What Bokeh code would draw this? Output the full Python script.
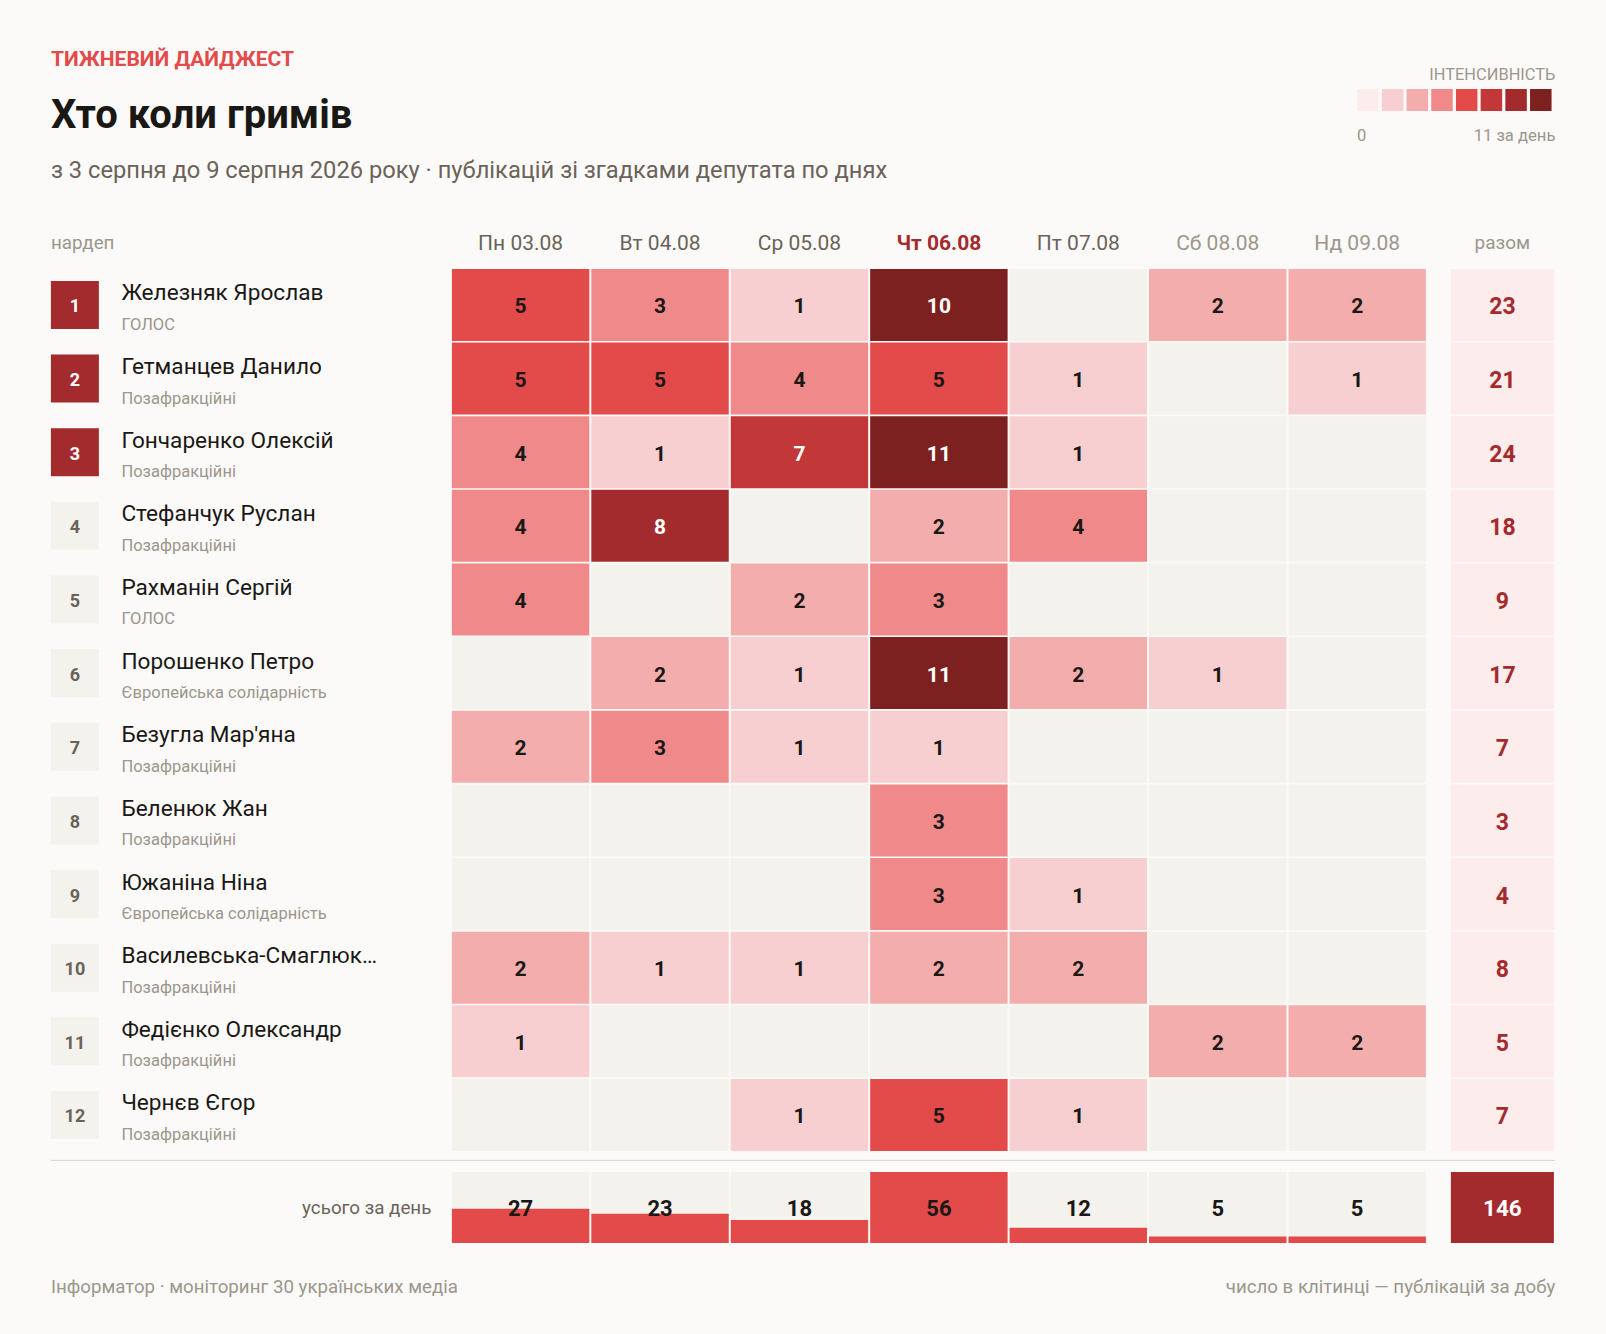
from bokeh.plotting import figure
from bokeh.models import Range1d, ColumnDataSource
from bokeh.core.properties import value
from bokeh.embed import file_html
from bokeh.resources import INLINE
import numpy as np

# ---------- data ----------
days = ["Пн 03.08", "Вт 04.08", "Ср 05.08", "Чт 06.08", "Пт 07.08", "Сб 08.08", "Нд 09.08"]
names = ["Железняк Ярослав", "Гетманцев Данило", "Гончаренко Олексій", "Стефанчук Руслан",
         "Рахманін Сергій", "Порошенко Петро", "Безугла Мар'яна", "Беленюк Жан",
         "Южаніна Ніна", "Василевська-Смаглюк…", "Федієнко Олександр", "Чернєв Єгор"]
parties = ["ГОЛОС", "Позафракційні", "Позафракційні", "Позафракційні", "ГОЛОС",
           "Європейська солідарність", "Позафракційні", "Позафракційні",
           "Європейська солідарність", "Позафракційні", "Позафракційні", "Позафракційні"]
counts = [
    [5, 3, 1, 10, 0, 2, 2],
    [5, 5, 4, 5, 1, 0, 1],
    [4, 1, 7, 11, 1, 0, 0],
    [4, 8, 0, 2, 4, 0, 0],
    [4, 0, 2, 3, 0, 0, 0],
    [0, 2, 1, 11, 2, 1, 0],
    [2, 3, 1, 1, 0, 0, 0],
    [0, 0, 0, 3, 0, 0, 0],
    [0, 0, 0, 3, 1, 0, 0],
    [2, 1, 1, 2, 2, 0, 0],
    [1, 0, 0, 0, 0, 2, 2],
    [0, 0, 1, 5, 1, 0, 0],
]
row_totals = [23, 21, 24, 18, 9, 17, 7, 3, 4, 8, 5, 7]
day_totals = [27, 23, 18, 56, 12, 5, 5]
grand_total = 146

# ---------- style ----------
BG = "#FBFAF8"
EMPTY = "#F3F2ED"
INK = "#1A1815"
MUTED = "#6B6259"
SOFT = "#9C968C"
RED = "#E34A4A"
DEEP = "#A32B2D"
palette = ["#FDECEC", "#F8CFD0", "#F4ADAD", "#F08A8A", "#E34A4A", "#C23737", "#A32B2D", "#7D2020"]
level_floor = [1, 2, 3, 5, 7, 8, 10]
FONT = value("Roboto")

W, H = 1590, 1318
OFF = 0.6
X0, PX = 520.7, 139.43      # page px of first day column centre, column pitch
Y0, PY = 305.0, 73.64       # page px of first row centre, row pitch
CELLW, CELLH = 137.43, 72.0
TOTX = 1502.5
TOTW = 103.0
SUMY = 1207.5
SUMH = 71.0
TEXT_DY = 1


def fx(px):
    return (px - X0) / PX


def fy(px):
    return (px - Y0) / PY


p = figure(width=W, height=H, output_backend="svg", toolbar_location=None,
           x_range=Range1d(fx(OFF), fx(OFF + W)), y_range=Range1d(fy(OFF + H), fy(OFF)),
           min_border=0, background_fill_color=BG, border_fill_color=BG, outline_line_color=None)
p.axis.visible = False
p.grid.visible = False


def put(px, py, s, size, color, align="left", bold=False):
    p.text(x=[fx(px)], y=[fy(py)], text=[s], text_font=FONT, text_font_size=f"{size}px",
           text_color=color, text_align=align, text_baseline="middle", y_offset=TEXT_DY,
           text_font_style="bold" if bold else "normal")


def fill_of(v):
    return EMPTY if v == 0 else palette[int(np.searchsorted(level_floor, v, side="right"))]


# ---------- heat grid ----------
xs, ys, fills, labels, inks = [], [], [], [], []
for r, row in enumerate(counts):
    for d, v in enumerate(row):
        xs.append(d); ys.append(r); fills.append(fill_of(v))
        labels.append(str(v) if v else ""); inks.append("#FFFFFF" if v >= 7 else INK)
src = ColumnDataSource(dict(x=xs, y=ys, fill=fills, label=labels, ink=inks))
p.rect(x="x", y="y", width=CELLW / PX, height=CELLH / PY, fill_color="fill", line_color=None, source=src)
p.text(x="x", y="y", text="label", text_color="ink", text_font=FONT, text_font_size="21px",
       text_font_style="bold", text_align="center", text_baseline="middle", y_offset=TEXT_DY, source=src)

# ---------- row labels ----------
rank_x = fx(75)
for r, (n, party) in enumerate(zip(names, parties)):
    top3 = r < 3
    p.rect(x=[rank_x], y=[r], width=48 / PX, height=48 / PY,
           fill_color=DEEP if top3 else EMPTY, line_color=None)
    p.text(x=[rank_x], y=[r], text=[str(r + 1)], text_color="#FFFFFF" if top3 else MUTED,
           text_font=FONT, text_font_size="18px", text_font_style="bold", y_offset=TEXT_DY,
           text_align="center", text_baseline="middle")
    put(121.5, Y0 + r * PY - 13, n, 22.6, INK)
    put(121.5, Y0 + r * PY + 18.5, party, 16.5, SOFT)

# ---------- totals column ----------
tx = [fx(TOTX)] * len(row_totals)
p.rect(x=tx, y=list(range(len(row_totals))), width=TOTW / PX, height=CELLH / PY,
       fill_color=palette[0], line_color=None)
p.text(x=tx, y=list(range(len(row_totals))), text=[str(v) for v in row_totals],
       text_color=DEEP, text_font=FONT, text_font_size="23px", text_font_style="bold",
       y_offset=TEXT_DY, text_align="center", text_baseline="middle")

# ---------- totals row ----------
sum_bottom = fy(SUMY + SUMH / 2)
sum_top = fy(SUMY - SUMH / 2)
dx = list(range(len(days)))
p.vbar(x=dx, width=CELLW / PX, bottom=sum_bottom, top=sum_top, fill_color=EMPTY, line_color=None)
peak = max(day_totals)
p.vbar(x=dx, width=CELLW / PX, bottom=sum_bottom,
       top=[sum_bottom + (sum_top - sum_bottom) * v / peak for v in day_totals],
       fill_color=RED, line_color=None)
p.text(x=dx, y=[fy(SUMY)] * len(dx), text=[str(v) for v in day_totals], text_color=INK,
       text_font=FONT, text_font_size="22px", text_font_style="bold", y_offset=TEXT_DY,
       text_align="center", text_baseline="middle")
p.rect(x=[fx(TOTX)], y=[fy(SUMY)], width=TOTW / PX, height=SUMH / PY, fill_color=DEEP, line_color=None)
put(TOTX, SUMY, str(grand_total), 22.5, "#FFFFFF", "center", True)
put(431.5, SUMY, "усього за день", 18.8, MUTED, "right")
p.segment(x0=[fx(51)], x1=[fx(1555)], y0=[fy(1160.5)], y1=[fy(1160.5)], line_color="#D8D5C9", line_width=1)

# ---------- headers ----------
put(51, 58, "ТИЖНЕВИЙ ДАЙДЖЕСТ", 21, RED, bold=True)
put(51, 113.5, "Хто коли гримів", 40, INK, bold=True)
put(51, 169.5, "з 3 серпня до 9 серпня 2026 року · публікацій зі згадками депутата по днях", 23.7, MUTED)
put(51, 242.5, "нардеп", 18.8, SOFT)
for d, label in enumerate(days):
    hot = d == day_totals.index(peak)
    color = DEEP if hot else (SOFT if d >= 5 else MUTED)
    p.text(x=[d], y=[fy(242.5)], text=[label], text_color=color, text_font=FONT,
           text_font_size="21px", text_font_style="bold" if hot else "normal", y_offset=TEXT_DY,
           text_align="center", text_baseline="middle")
put(TOTX, 241.5, "разом", 19, SOFT, "center")

# ---------- intensity legend ----------
put(1555.5, 74, "ІНТЕНСИВНІСТЬ", 16.4, SOFT, "right")
swx = [fx(1368 + i * 24.7) for i in range(len(palette))]
p.rect(x=swx, y=[fy(100)] * len(palette), width=21.5 / PX, height=22 / PY, fill_color=palette, line_color=None)
put(1357, 134.5, "0", 16.6, SOFT)
put(1555.5, 134.5, f"{max(max(r) for r in counts)} за день", 16.6, SOFT, "right")

# ---------- footer ----------
put(51, 1286.5, "Інформатор · моніторинг 30 українських медіа", 18.7, SOFT)
put(1555.5, 1286.5, "число в клітинці — публікацій за добу", 18.7, SOFT, "right")

html = file_html(p, INLINE)
html = html.replace("<head>", f"<head><style>html,body{{background:{BG};}}</style>", 1)
open("out.html", "w").write(html)
